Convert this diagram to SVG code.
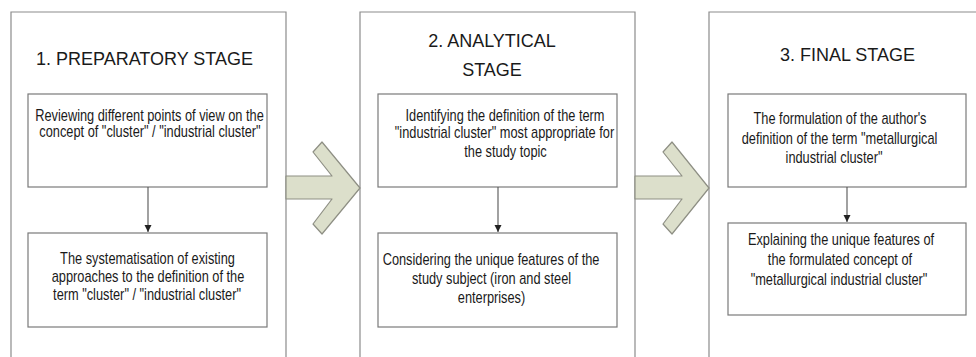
<svg xmlns="http://www.w3.org/2000/svg" width="976" height="357" viewBox="0 0 976 357">
<style>
.panel{fill:#fff;stroke:#8c8c8c;stroke-width:1.2}
.box{fill:#fff;stroke:#7a7a7a;stroke-width:1.2}
.title{font-family:"Liberation Sans",Arial,sans-serif;font-size:18px;fill:#1a1a1a;text-anchor:middle}
.t{font-family:"Liberation Sans",Arial,sans-serif;font-size:16px;fill:#1a1a1a;text-anchor:middle}
.big{fill:#dcdfcb;stroke:#8e8f84;stroke-width:1.2;stroke-linejoin:round}
.conn{stroke:#555;stroke-width:1.1;fill:none}
</style>
<defs>
<marker id="ah" markerWidth="8" markerHeight="8" refX="7" refY="4" orient="auto" markerUnits="userSpaceOnUse">
<path d="M0,0.5 L7,4 L0,7.5 Z" fill="#222"/>
</marker>
</defs>
<rect width="976" height="357" fill="#fff"/>

<g id="stage1">
<path class="panel" d="M11,357 V12 H286 V357"/>
<text class="title" x="144.5" y="65">1. PREPARATORY STAGE</text>
</g>
<g id="stage2">
<path class="panel" d="M360,357 V12 H635 V357"/>
<text class="title" x="492" y="47">2. ANALYTICAL</text>
<text class="title" x="492" y="76">STAGE</text>
</g>
<g id="stage3">
<path class="panel" d="M709,357 V12 H976"/>
<text class="title" x="847.5" y="61">3. FINAL STAGE</text>
</g>

<g id="arrows">
<polygon class="big" points="286,176 332,176 313,152 322,142 360,188 322,234 313,224 332,199 286,199"/>
<polygon class="big" points="635,176 682,176 663,152 672,142 709,188 672,234 663,224 682,199 635,199"/>
</g>

<g id="n1a">
<rect class="box" x="28" y="94" width="239" height="93"/>
<g transform="scale(0.8 1)">
<text class="t" x="186.9" y="121">Reviewing different points of view on the</text>
<text class="t" x="187.5" y="137">concept of "cluster" / "industrial cluster"</text>
</g>
</g>
<g id="n1b">
<rect class="box" x="28" y="233" width="239" height="94"/>
<g transform="scale(0.8 1)">
<text class="t" x="184.4" y="264">The systematisation of existing</text>
<text class="t" x="185" y="282">approaches to the definition of the</text>
<text class="t" x="183.8" y="300.5">term "cluster" / "industrial cluster"</text>
</g>
</g>

<g id="n2a">
<rect class="box" x="378" y="94" width="239" height="93"/>
<g transform="scale(0.8 1)">
<text class="t" x="631.3" y="121">Identifying the definition of the term</text>
<text class="t" x="630.6" y="138">"industrial cluster" most appropriate for</text>
<text class="t" x="631.9" y="157">the study topic</text>
</g>
</g>
<g id="n2b">
<rect class="box" x="378" y="233" width="239" height="94"/>
<g transform="scale(0.8 1)">
<text class="t" x="613.8" y="265">Considering the unique features of the</text>
<text class="t" x="614.4" y="284">study subject (iron and steel</text>
<text class="t" x="614.4" y="303">enterprises)</text>
</g>
</g>

<g id="n3a">
<rect class="box" x="728" y="94" width="238" height="93"/>
<g transform="scale(0.8 1)">
<text class="t" x="1050" y="124">The formulation of the author's</text>
<text class="t" x="1049.4" y="144">definition of the term "metallurgical</text>
<text class="t" x="1042.5" y="163">industrial cluster"</text>
</g>
</g>
<g id="n3b">
<rect class="box" x="728" y="223" width="238" height="92"/>
<g transform="scale(0.8 1)">
<text class="t" x="1051.3" y="245">Explaining the unique features of</text>
<text class="t" x="1050" y="265">the formulated concept of</text>
<text class="t" x="1048.8" y="285">"metallurgical industrial cluster"</text>
</g>
</g>

<g id="connectors">
<line class="conn" x1="148" y1="187" x2="148" y2="232" marker-end="url(#ah)"/>
<line class="conn" x1="498" y1="187" x2="498" y2="232" marker-end="url(#ah)"/>
<line class="conn" x1="847" y1="187" x2="847" y2="222" marker-end="url(#ah)"/>
</g>
</svg>
